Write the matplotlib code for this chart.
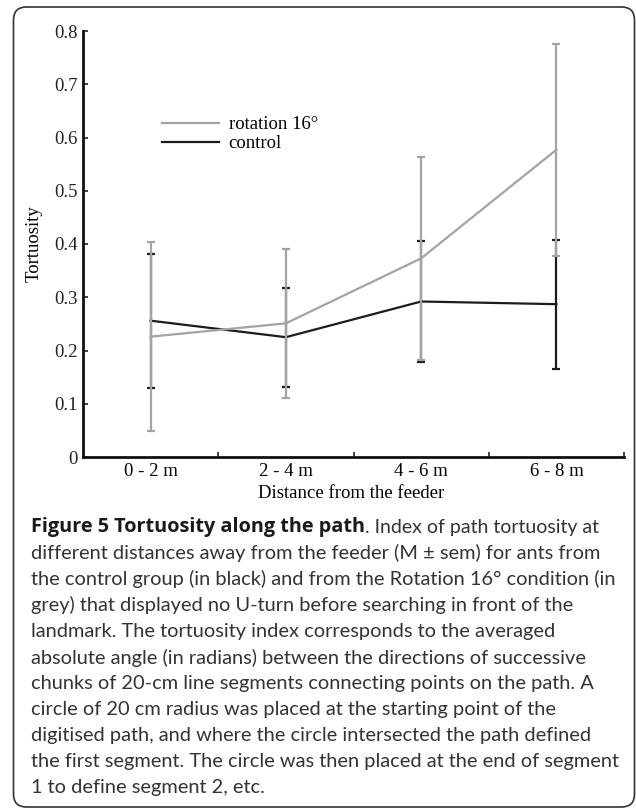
"""
Tortuosity along the path (figure 5 recreation)
"""

# Imports - standard
import numpy as np
import matplotlib
matplotlib.use("Agg")
import matplotlib.pyplot as plt
from matplotlib.patches import FancyBboxPatch

# data
CATEGORIES = ['0 - 2 m', '2 - 4 m', '4 - 6 m', '6 - 8 m']
ROT_MEAN = [0.226, 0.251, 0.373, 0.577]
ROT_SEM = [0.178, 0.140, 0.190, 0.199]
CTRL_MEAN = [0.256, 0.225, 0.292, 0.287]
CTRL_SEM = [0.126, 0.093, 0.113, 0.121]
Y_TICKS = [0, 0.1, 0.2, 0.3, 0.4, 0.5, 0.6, 0.7, 0.8]

CAPTION_BOLD = 'Figure 5 Tortuosity along the path'
CAPTION_LINES = [
    '. Index of path tortuosity at',
    'different distances away from the feeder (M \u00b1 sem) for ants from',
    'the control group (in black) and from the Rotation 16\u00b0 condition (in',
    'grey) that displayed no U-turn before searching in front of the',
    'landmark. The tortuosity index corresponds to the averaged',
    'absolute angle (in radians) between the directions of successive',
    'chunks of 20-cm line segments connecting points on the path. A',
    'circle of 20 cm radius was placed at the starting point of the',
    'digitised path, and where the circle intersected the path defined',
    'the first segment. The circle was then placed at the end of segment',
    '1 to define segment 2, etc.',
]

GREY = '#a3a3a3'
DARK = '#1c1c1c'
SERIF = 'Liberation Serif'
SANS = 'Lato'
FS = 13.5


def main():

    fig = plt.figure(figsize=(6.36, 8.09), dpi=100)
    ax = fig.add_axes([83 / 636, 1 - 457 / 809, 541 / 636, 426 / 809])

    x = np.arange(len(CATEGORIES)) + 0.5

    # error bars - control below, rotation on top
    ax.errorbar(x, CTRL_MEAN, yerr=CTRL_SEM, fmt='none', ecolor=DARK,
                elinewidth=1.6, capsize=2.6, capthick=1.6, zorder=2)
    ax.errorbar(x, ROT_MEAN, yerr=ROT_SEM, fmt='none', ecolor=GREY,
                elinewidth=1.6, capsize=2.6, capthick=1.6, zorder=3)
    l_ctrl, = ax.plot(x, CTRL_MEAN, color=DARK, lw=1.6, zorder=2,
                      label='control')
    l_rot, = ax.plot(x, ROT_MEAN, color=GREY, lw=1.6, zorder=3,
                     label='rotation 16\u00b0')

    # legend
    ax.legend(handles=[l_rot, l_ctrl], loc='upper left',
              bbox_to_anchor=(0.129, 0.822), frameon=False, handlelength=3.05,
              handletextpad=0.5, labelspacing=0.1, borderpad=0,
              prop={'family': SERIF, 'size': FS})

    # axes styling
    ax.set_xlim(0, 4)
    ax.set_ylim(0, 0.8)
    ax.set_yticks(Y_TICKS)
    ax.set_yticklabels(['0'] + [f'{v:.1f}' for v in Y_TICKS[1:]],
                       family=SERIF, fontsize=FS)
    ax.set_xticks([1, 2, 3, 4])
    ax.set_xticklabels([])
    for xi, lab in zip(x, CATEGORIES):
        ax.text(xi, -15 / 426, lab, ha='center', va='center', family=SERIF,
                fontsize=FS, transform=ax.get_xaxis_transform())
    ax.tick_params(direction='in', length=3.5, width=1.2, pad=4,
                   colors='#222222')
    for side in ['top', 'right']:
        ax.spines[side].set_visible(False)
    for side in ['left', 'bottom']:
        ax.spines[side].set_linewidth(2.0)
        ax.spines[side].set_color('#111111')
    ax.set_ylabel('Tortuosity', family=SERIF, fontsize=FS, labelpad=8)
    fig.text(351 / 636, 1 - 494 / 809, 'Distance from the feeder',
             ha='center', va='center', family=SERIF, fontsize=FS)

    # caption
    fs = 14.4
    y0 = 1 - 527 / 809
    dy = 26.1 / 809
    x0 = 31 / 636
    renderer = fig.canvas.get_renderer()
    t_bold = fig.text(x0, y0, CAPTION_BOLD, family='Open Sans', fontsize=14.3,
                      weight='bold', va='center', color='#1a1a1a')
    bb = t_bold.get_window_extent(renderer)
    fig.text(bb.x1 / fig.bbox.width, y0, CAPTION_LINES[0], family=SANS,
             fontsize=14.0, va='center', color='#333333')
    for i, line in enumerate(CAPTION_LINES[1:], start=1):
        fig.text(x0, y0 - i * dy, line, family=SANS, fontsize=fs,
                 va='center', color='#333333')

    # rounded frame round the whole figure
    frame = FancyBboxPatch((0.135, 0.02), 6.21, 8.0,
                           boxstyle='round,pad=0,rounding_size=0.13',
                           transform=fig.dpi_scale_trans, fill=False,
                           edgecolor='#333333', lw=1.2)
    fig.patches.append(frame)

    fig.savefig('out.png', dpi=100)


if __name__ == "__main__":
    main()
